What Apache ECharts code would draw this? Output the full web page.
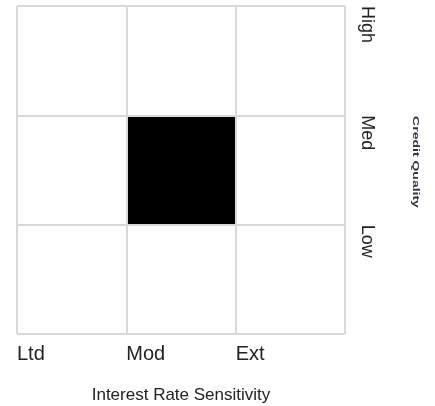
<!DOCTYPE html>
<html><head><meta charset="utf-8">
<script src="https://cdn.jsdelivr.net/npm/echarts@6/dist/echarts.min.js"></script>
<style>html,body{margin:0;padding:0;background:#fff}#c{width:435px;height:406px}</style>
</head><body><div id="c"></div>
<script>
const xCategories = ['Ltd', 'Mod', 'Ext'];
const yCategories = ['Low', 'Med', 'High'];
// rows follow yCategories (bottom to top), columns follow xCategories
const cellValues = [
  [0, 0, 0],
  [0, 1, 0],
  [0, 0, 0]
];
const xTitle = 'Interest Rate Sensitivity';
const yTitle = 'Credit Quality';

const data = [];
cellValues.forEach((row, yi) => row.forEach((v, xi) => data.push([xi, yi, v])));

const FONT = '"Liberation Sans Narrow", "Liberation Sans", sans-serif';
const chart = echarts.init(document.getElementById('c'), null, {renderer: 'canvas'});
chart.setOption({
  animation: false,
  backgroundColor: '#fff',
  grid: {left: 17, right: 90, top: 6, bottom: 72, containLabel: false, outerBoundsMode: 'none'},
  xAxis: [
    {type: 'category', data: xCategories, show: false},
    {type: 'value', min: 0, max: 3, interval: 1, position: 'bottom', z: 5,
     axisLine: {show: false}, axisTick: {show: false},
     splitLine: {show: true, lineStyle: {color: '#d9d9d9', width: 2}},
     axisLabel: {formatter: v => xCategories[v] || '', align: 'left', margin: 10,
       fontFamily: FONT, fontSize: 20, color: '#222'},
     name: xTitle, nameLocation: 'middle', nameGap: 53,
     nameTextStyle: {fontFamily: FONT, fontSize: 17, color: '#222'}}
  ],
  yAxis: [
    {type: 'category', data: yCategories, show: false},
    {type: 'value', min: 0, max: 3, interval: 1, position: 'right', z: 5,
     axisLine: {show: false}, axisTick: {show: false},
     splitLine: {show: true, lineStyle: {color: '#d9d9d9', width: 2}},
     axisLabel: {formatter: v => yCategories[v - 1] || '', rotate: -90, align: 'left',
       verticalAlign: 'middle', margin: 22, fontFamily: FONT, fontSize: 18, color: '#222'}}
  ],
  visualMap: {show: false, type: 'piecewise', dimension: 2,
    pieces: [{value: 0, color: 'rgba(0,0,0,0)'}, {value: 1, color: '#000'}]},
  series: [{type: 'heatmap', xAxisIndex: 0, yAxisIndex: 0, data: data, z: 1}],
  graphic: [{type: 'text', x: 415.5, y: 162, rotation: -Math.PI / 2, scaleY: 0.7,
    style: {text: yTitle, fontFamily: FONT, fontSize: 14, fontWeight: 'bold', fill: '#333344',
      align: 'center', verticalAlign: 'middle'}}]
});
</script></body></html>
